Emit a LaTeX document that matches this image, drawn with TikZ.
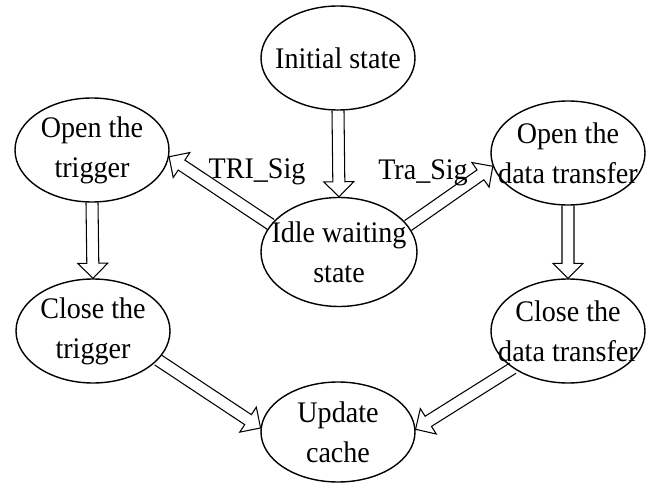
\documentclass[tikz,border=0pt]{standalone}
\usepackage{fontspec}
\setmainfont{Liberation Serif}[FakeStretch=0.94]
\usetikzlibrary{shapes.geometric,calc}

\tikzset{
  state/.style={draw,ellipse,line width=0.8pt,minimum width=3.08cm,minimum height=2.08cm,inner sep=0pt},
  statetext/.style={align=center,inner sep=0pt,font=\fontsize{17}{22.8}\selectfont},
  flow/.style={line width=0.6pt,line join=miter},
}

% hollow double arrow from #1 to #2
\newcommand{\flowarrow}[2]{%
  \coordinate (fb) at ($(#2)!0.3cm!(#1)$);
  \draw[flow] ($(#1)!0.12cm!90:(#2)$) -- ($(fb)!0.12cm!90:(#2)$) -- ($(fb)!0.3cm!90:(#2)$)
    -- (#2) -- ($(fb)!0.3cm!-90:(#2)$) -- ($(fb)!0.12cm!-90:(#2)$) -- ($(#1)!0.12cm!-90:(#2)$);
}

\begin{document}
\begin{tikzpicture}
        \useasboundingbox (0,0) rectangle (12.98,9.66);

        % States
        \node[state] (init) at (6.76,8.5) {};
        \node[state] (opentrig) at (1.84,6.66) {};
        \node[state,minimum width=3.12cm,minimum height=2.18cm] (idle) at (6.78,4.62) {};
        \node[state] (opendata) at (11.36,6.6) {};
        \node[state] (closetrig) at (1.86,3.04) {};
        \node[state] (closedata) at (11.36,3.04) {};
        \node[state,minimum height=2.0cm] (update) at (6.76,1.02) {};

        % State names
        \node[statetext] (initT) at (init) {Initial state};
        \node[statetext] (opentrigT) at (opentrig) {Open the\\trigger};
        \node[statetext] (idleT) at (idle) {Idle waiting\\state};
        \node[statetext] (opendataT) at (opendata) {Open the\\data transfer};
        \node[statetext] (closetrigT) at (closetrig) {Close the\\trigger};
        \node[statetext] (closedataT) at (closedata) {Close the\\data transfer};
        \node[statetext] (updateT) at (update) {Update\\cache};

        % Transitions
        \flowarrow{init.south}{idle.north}
        \flowarrow{idle.158}{opentrig.-5}
        \flowarrow{idle.21}{opendata.190}
        \flowarrow{opentrig.south}{closetrig.north}
        \flowarrow{opendata.south}{closedata.north}
        \flowarrow{closetrig.-24}{update.177}
        \flowarrow{closedata.214}{update.2}

        % Signals
        \node[statetext] (trisig) at (5.14,6.22) {TRI\_Sig};
        \node[statetext] (trasig) at (8.46,6.2) {Tra\_Sig};
\end{tikzpicture}
\end{document}
